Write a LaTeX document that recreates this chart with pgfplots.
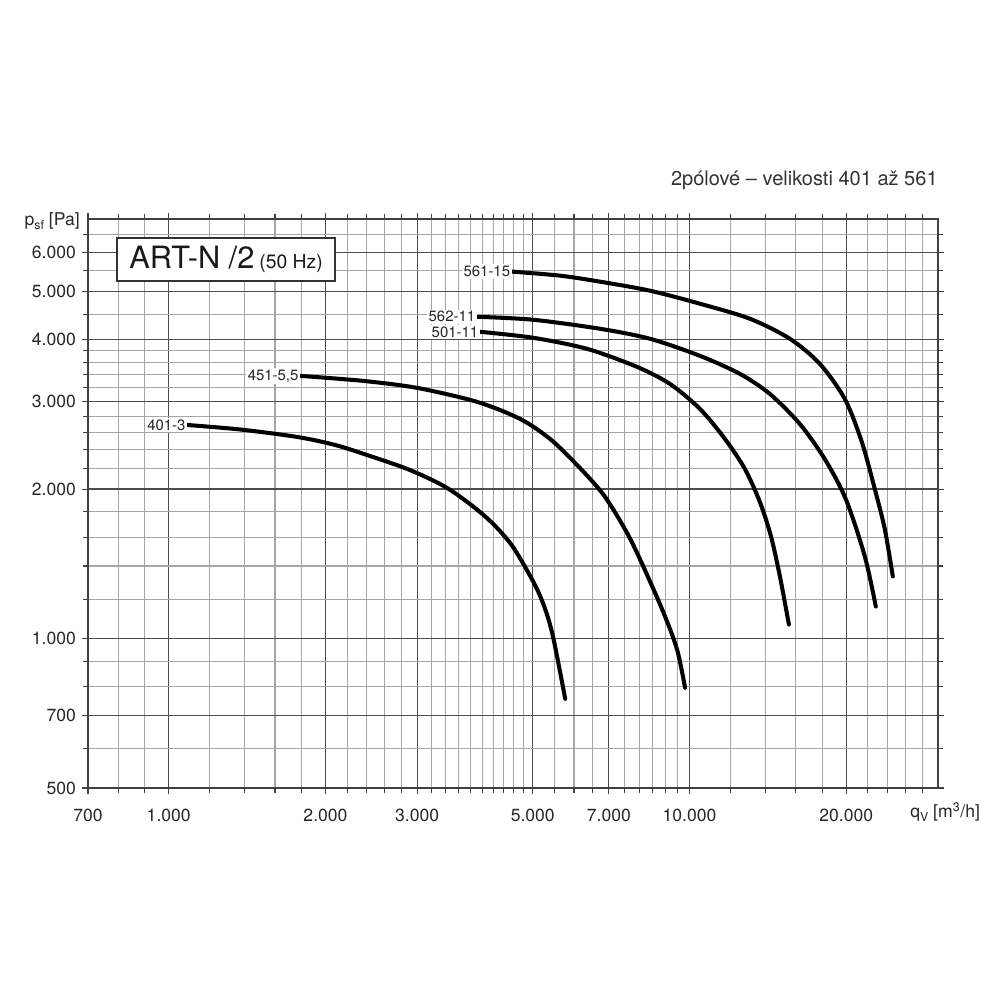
\documentclass[border=0pt]{standalone}
\usepackage{fontspec}
\setmainfont{TeX Gyre Heros}
\usepackage{pgfplots}
\pgfplotsset{compat=1.18}
\begin{document}
\begin{tikzpicture}[x=1cm,y=1cm]
\path[use as bounding box] (-1.76,-4.24) rectangle (18.24,15.76);
\begin{axis}[at={(0,0)}, anchor=south west, scale only axis,
  width=17cm, height=11.38cm,
  xmode=log, ymode=log,
  xmin=700, xmax=30000, ymin=500, ymax=7000,
  xtick={700,1000,2000,3000,5000,7000,10000,20000},
  xticklabels={700,1.000,2.000,3.000,5.000,7.000,10.000,20.000},
  ytick={500,700,1000,2000,3000,4000,5000,6000},
  yticklabels={500,700,1.000,2.000,3.000,4.000,5.000,6.000},
  minor xtick={800,900,1200,1400,1600,1800,2200,2400,2600,2800,3200,3400,3600,3800,4000,4200,4400,4600,4800,5500,6000,6500,7500,8000,8500,9000,9500,12000,14000,16000,18000,22000,24000,26000,28000},
  minor ytick={600,800,900,1200,1400,1600,1800,2200,2400,2600,2800,3200,3400,3600,3800,4500,5500,6500},
  grid=both,
  major grid style={color=black!70, line width=0.7pt},
  minor grid style={color=black!35, line width=0.6pt},
  tick align=outside, major tick length=0.12cm, minor tick length=0.1cm,
  every tick/.style={black!75, line width=0.6pt},
  axis line style={black!75, line width=0.9pt},
  tick label style={font=\fontsize{10}{12}\selectfont, text=black!85},
  xticklabel style={yshift=-0.18cm},
  clip=false,
]
\addplot[smooth, line width=2.3pt, black, line cap=round] coordinates {
(1087,2692) (1374,2636) (1768,2546) (2090,2453) (2439,2330) (2911,2183) (3428,2009) (3966,1796) (4331,1644) (4628,1505) (5055,1279) (5285,1144) (5474,1004) (5772,756)};
\addplot[smooth, line width=2.3pt, black, line cap=round] coordinates {
(1791,3381) (2365,3303) (3002,3197) (3913,2996) (4732,2768) (5401,2522) (6085,2235) (6825,1953) (7519,1660) (8037,1443) (8896,1133) (9464,950) (9804,796)};
\addplot[smooth, line width=2.3pt, black, line cap=round] coordinates {
(3966,4147) (5011,4034) (6360,3832) (7931,3525) (9175,3256) (10474,2900) (11700,2522) (12777,2194) (13652,1882) (14333,1607) (14912,1334) (15517,1067)};
\addplot[smooth, line width=2.3pt, black, line cap=round] coordinates {
(3913,4447) (5011,4386) (6736,4206) (8400,4015) (10474,3710) (12497,3412) (14266,3109) (16290,2704) (18190,2298) (19959,1908) (21703,1464) (22785,1160)};
\addplot[smooth, line width=2.3pt, black, line cap=round] coordinates {
(4566,5483) (5646,5381) (6736,5233) (8400,5018) (10474,4724) (13062,4406) (15586,4015) (17795,3574) (19872,3037) (21420,2487) (22687,1999) (23711,1660) (24562,1334)};
\begin{scope}[every node/.style={anchor=east, fill=white, inner sep=1pt, text=black!85, font=\fontsize{8.5}{10}\selectfont}]
\node at (axis cs:1087,2692) {401-3};
\node at (axis cs:1791,3381) {451-5,5};
\node at (axis cs:3966,4147) {501-11};
\node at (axis cs:3913,4447) {562-11};
\node at (axis cs:4566,5483) {561-15};
\end{scope}
\node[draw=black!80, line width=0.9pt, fill=white, minimum width=4.36cm, minimum height=0.86cm, inner sep=0pt, text=black!90] at (rel axis cs:0.1624,0.9288)
  {{\fontsize{17.5}{20}\selectfont ART-N /2}\hspace{0.1cm}{\fontsize{11}{13}\selectfont (50 Hz)}};
\node[anchor=base east, inner sep=0pt, yshift=0.66cm, text=black!80, font=\fontsize{11.4}{13}\selectfont] at (rel axis cs:1,1) {2pólové -- velikosti 401 až 561};
\node[anchor=base east, inner sep=0pt, xshift=-0.16cm, yshift=-0.14cm, text=black!85, font=\fontsize{10}{12}\selectfont] at (rel axis cs:0,1) {p\raisebox{-0.35ex}{\fontsize{7}{8}\selectfont sf} [Pa]};
\node[anchor=base west, inner sep=0pt, xshift=-0.56cm, yshift=-0.6cm, text=black!85, font=\fontsize{10}{12}\selectfont] at (rel axis cs:1,0) {q\raisebox{-0.35ex}{\fontsize{7}{8}\selectfont V} [m\textsuperscript{3}/h]};
\end{axis}
\end{tikzpicture}
\end{document}
